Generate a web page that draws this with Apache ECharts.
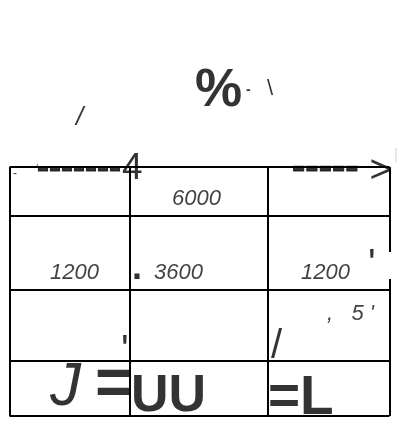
<html>
<head>
<script src="https://cdn.jsdelivr.net/npm/echarts@6/dist/echarts.min.js"></script>
<style>
  html, body { margin: 0; padding: 0; background: #fff; }
  #container { width: 398px; height: 421px; }
</style>
</head>
<body>
<div id="container"></div>
<script>
// table frame (in page pixels, used as axis values)
const colEdges = [9.5, 129.5, 268, 389.5];
const rowEdges = [167, 216, 290, 361, 416];
// gap in the right border
const rightGap = [252, 279];

// text fragments, their left x / middle y, and the look they use
const fragments = ['%', '-', '\\', '/', '-', '\u2018', '-------', '4', '-----', '>',
  '6000', '1200', '.', '3600', '1200', "'", ',   5 \'', "'", '/',
  'J', '=', 'UU', '=L', '|'];
const fragX = [195, 246, 267, 76, 13, 36, 37, 122, 292, 369.5,
  172, 50, 132, 154, 301, 368, 327, 121, 271,
  50, 95, 131, 268, 394];
const fragY = [91, 90, 88.5, 118, 174, 170, 168, 168.5, 167.5, 171.5,
  199, 273, 269.5, 273, 273, 265.5, 313.5, 352, 347,
  388, 387, 396.5, 398.7, 155];
const fragLook = ['pct', 'tiny', 'slash', 'slashI', 'small', 'small', 'dashL', 'four', 'dashR', 'arrow',
  'num', 'num', 'dot', 'num', 'num', 'tick', 'num', 'tick', 'slashBig',
  'bigJ', 'eq', 'uu', 'eqL', 'ghost'];

const looks = {
  pct: { fontSize: 53, fontWeight: 'bold' },
  tiny: { fontSize: 14, fontWeight: 'bold' },
  slash: { fontSize: 22 },
  slashI: { fontSize: 26, fontStyle: 'italic' },
  small: { fontSize: 12 },
  dashL: { fontSize: 36, fontWeight: 'bold', textBorderColor: '#000', textBorderWidth: 1 },
  dashR: { fontSize: 40, fontWeight: 'bold', textBorderColor: '#000', textBorderWidth: 1 },
  four: { fontSize: 37 },
  arrow: { fontSize: 38 },
  num: { fontSize: 22, fontStyle: 'italic', color: '#111' },
  dot: { fontSize: 36, fontWeight: 'bold' },
  tick: { fontSize: 40 },
  slashBig: { fontSize: 40 },
  bigJ: { fontSize: 62, fontStyle: 'italic' },
  eq: { fontSize: 66, fontWeight: 'bold' },
  uu: { fontSize: 52, fontWeight: 'bold' },
  eqL: { fontSize: 55, fontWeight: 'bold' },
  ghost: { fontSize: 14, color: '#ccc' }
};

function buildFrame() {
  let segs = [];
  const x0 = colEdges[0], x1 = colEdges[colEdges.length - 1];
  const y0 = rowEdges[0], y1 = rowEdges[rowEdges.length - 1];
  rowEdges.forEach(y => segs.push({ coords: [[x0, y], [x1, y]] }));
  colEdges.forEach((x, i) => {
    if (i === colEdges.length - 1) {
      segs.push({ coords: [[x, y0], [x, rightGap[0]]] });
      segs.push({ coords: [[x, rightGap[1]], [x, y1]] });
    } else {
      segs.push({ coords: [[x, y0], [x, y1]] });
    }
  });
  return segs;
}

function buildTexts() {
  return fragments.map((t, i) => {
    const look = looks[fragLook[i]];
    return {
      name: t,
      value: [fragX[i], fragY[i]],
      label: Object.assign({ color: '#000', fontStyle: 'normal', fontWeight: 'normal' }, look)
    };
  });
}

let mychart = echarts.init(document.getElementById('container'));
mychart.setOption({
  animation: false,
  grid: { left: 0, right: 0, top: 0, bottom: 0 },
  xAxis: { type: 'value', min: 0, max: 398, show: false },
  yAxis: { type: 'value', min: 0, max: 421, inverse: true, show: false },
  series: [
    {
      type: 'lines',
      coordinateSystem: 'cartesian2d',
      lineStyle: { color: '#000', width: 2, opacity: 1 },
      data: buildFrame()
    },
    {
      type: 'scatter',
      symbolSize: 0,
      label: {
        show: true,
        position: 'inside',
        align: 'left',
        verticalAlign: 'middle',
        fontFamily: 'Liberation Sans',
        formatter: '{b}'
      },
      data: buildTexts()
    }
  ]
});
</script>
</body>
</html>
